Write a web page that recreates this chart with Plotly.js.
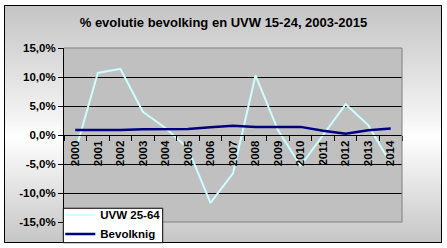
<!DOCTYPE html>
<html>
<head>
<meta charset="utf-8">
<script src="https://cdn.plot.ly/plotly-3.0.1.min.js"></script>
<style>
  html, body { margin: 0; padding: 0; background: #ffffff; }
  #frame {
    position: absolute; left: 4px; top: 5px; width: 436px; height: 236px;
    border: 1px solid #000000;
    background: linear-gradient(to bottom, #c4c4c4 0%, #f4f4f4 48%, #ffffff 55%, #c6c6c6 100%);
  }
  #chart { position: absolute; left: 0; top: 0; width: 447px; height: 248px; }
</style>
</head>
<body>
<div id="frame"></div>
<div id="chart"></div>
<script>
// Data (percent)
const years = ['2000','2001','2002','2003','2004','2005','2006','2007','2008','2009','2010','2011','2012','2013','2014'];
const uvw = [-2.9, 10.7, 11.4, 4.0, 1.2, -2.3, -11.7, -6.6, 10.3, 0.8, -5.3, 0.0, 5.3, 1.7, -4.9];
const bevolking = [0.85, 0.85, 0.85, 1.0, 1.0, 1.05, 1.35, 1.6, 1.4, 1.4, 1.4, 0.75, 0.2, 0.8, 1.1];
const yTickVals = [-15, -10, -5, 0, 5, 10, 15];
const yTickText = ['-15,0%', '-10,0%', '-5,0%', '0,0%', '5,0%', '10,0%', '15,0%'];
const seriesNames = ['UVW 25-64', 'Bevolknig'];
const titleText = '% evolutie bevolking en UVW 15-24, 2003-2015';

const font = 'Liberation Sans, Arial, sans-serif';

const traces = [
  { x: years, y: uvw, type: 'scatter', mode: 'lines', name: seriesNames[0],
    line: { color: '#ccffff', width: 2 } },
  { x: years, y: bevolking, type: 'scatter', mode: 'lines', name: seriesNames[1],
    line: { color: '#000080', width: 2.5 } }
];

const layout = {
  width: 447, height: 248,
  margin: { l: 64, r: 45, t: 48, b: 26, pad: 0, autoexpand: false },
  paper_bgcolor: 'rgba(0,0,0,0)',
  plot_bgcolor: '#c0c0c0',
  font: { family: font, color: '#000000', size: 11.5, weight: 'bold' },
  title: { text: titleText, font: { family: font, size: 13, weight: 'bold', color: '#000' },
           x: 0.5, xref: 'container', xanchor: 'center', y: 1 - 22/248, yref: 'container', yanchor: 'middle' },
  showlegend: true,
  legend: { x: -0.011, y: 0.124, xanchor: 'left', yanchor: 'top', bgcolor: 'rgba(0,0,0,0)',
            borderwidth: 0,
            font: { family: font, size: 11.5, weight: 'bold', color: '#000' },
            tracegroupgap: 0, itemwidth: 30 },
  xaxis: {
    type: 'category', range: [-0.5, 14.5], anchor: 'free', position: 0.5,
    showline: true, linecolor: '#000', linewidth: 1,
    ticks: 'outside', tickson: 'boundaries', ticklen: 5, tickcolor: '#000', tickwidth: 1,
    tickangle: -90, showgrid: false, zeroline: false,
    tickfont: { family: font, size: 11.5, weight: 'bold', color: '#000' }
  },
  yaxis: {
    range: [-15, 15], tickvals: yTickVals, ticktext: yTickText,
    showline: true, linecolor: '#000', linewidth: 1,
    ticks: 'outside', ticklen: 5, tickcolor: '#000', tickwidth: 1,
    showgrid: true, gridcolor: '#000', gridwidth: 1, zeroline: false,
    tickfont: { family: font, size: 11.5, weight: 'bold', color: '#000' }
  },
  shapes: [
    { type: 'line', xref: 'paper', yref: 'paper', x0: 0, x1: 1, y0: 1, y1: 1, line: { color: '#808080', width: 1 }, layer: 'above' },
    { type: 'line', xref: 'paper', yref: 'paper', x0: 1, x1: 1, y0: 0, y1: 1, line: { color: '#808080', width: 1 }, layer: 'above' },
    { type: 'line', xref: 'paper', yref: 'paper', x0: 0, x1: 1, y0: 0, y1: 0, line: { color: '#808080', width: 1 }, layer: 'above' },
    // legend box
    { type: 'rect', xref: 'paper', yref: 'paper', x0: -0.002, x1: 0.292, y0: -0.119, y1: 0.079,
      fillcolor: '#ffffff', opacity: 1, line: { color: '#000000', width: 1 }, layer: 'above' }
  ],
  hovermode: false
};

Plotly.newPlot('chart', traces, layout, { displayModeBar: false, staticPlot: true });
</script>
</body>
</html>
